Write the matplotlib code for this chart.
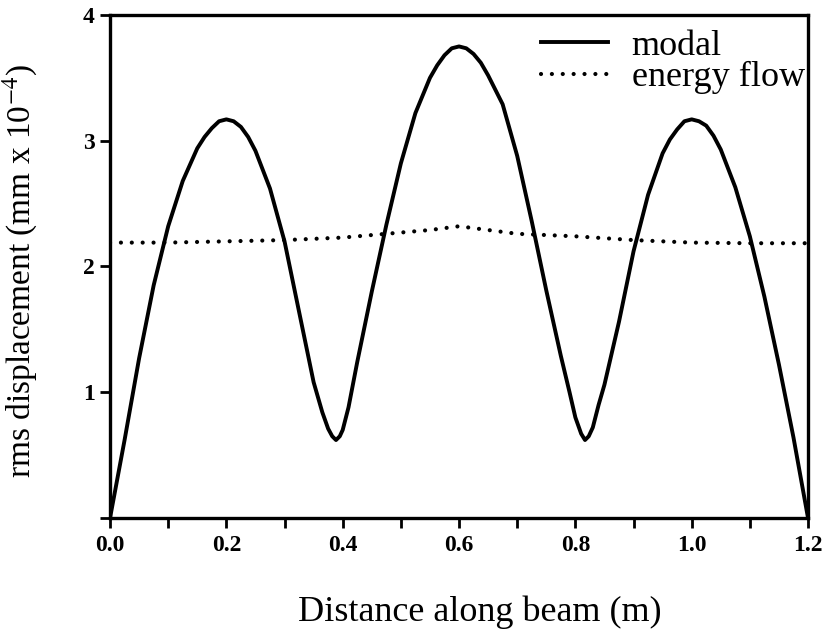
import matplotlib
matplotlib.use("Agg")
import matplotlib.pyplot as plt
from matplotlib.ticker import MultipleLocator

# Data
# modal rms displacement (mm x 1e-4) along the beam
modal_x = [0.0, 0.025, 0.05, 0.075, 0.1, 0.125, 0.15, 0.1625, 0.175, 0.1875,
           0.2, 0.2125, 0.225, 0.2375, 0.25, 0.275, 0.3, 0.325, 0.35, 0.365,
           0.375, 0.382, 0.3885, 0.395, 0.40, 0.41, 0.425, 0.45, 0.475, 0.5,
           0.525, 0.55, 0.5625, 0.575, 0.5875, 0.6, 0.6125, 0.625, 0.6375, 0.65,
           0.675, 0.7, 0.725, 0.75, 0.775, 0.79, 0.80, 0.81, 0.8166, 0.823,
           0.83, 0.84, 0.85, 0.875, 0.9, 0.925, 0.95, 0.9625, 0.975, 0.9875,
           1.0, 1.0125, 1.025, 1.0375, 1.05, 1.075, 1.1, 1.125, 1.15, 1.175, 1.2]
modal_y = [0.0, 0.62, 1.27, 1.85, 2.32, 2.68, 2.94, 3.03, 3.10, 3.155,
           3.17, 3.155, 3.11, 3.03, 2.92, 2.62, 2.20, 1.64, 1.08, 0.84,
           0.71, 0.65, 0.62, 0.65, 0.70, 0.88, 1.24, 1.80, 2.33, 2.82,
           3.22, 3.50, 3.60, 3.68, 3.735, 3.75, 3.735, 3.69, 3.62, 3.52,
           3.29, 2.88, 2.36, 1.81, 1.29, 1.00, 0.80, 0.67, 0.62, 0.65,
           0.72, 0.90, 1.06, 1.56, 2.12, 2.57, 2.90, 3.01, 3.09, 3.155,
           3.17, 3.155, 3.12, 3.04, 2.93, 2.63, 2.24, 1.76, 1.22, 0.64, 0.0]

# energy flow prediction
energy_x = [0.0, 0.1, 0.2, 0.3, 0.4, 0.5, 0.55, 0.6, 0.65, 0.7, 0.8, 0.9, 1.0, 1.1, 1.2]
energy_y = [2.19, 2.19, 2.20, 2.21, 2.23, 2.27, 2.29, 2.32, 2.29, 2.26, 2.24, 2.21, 2.19, 2.185, 2.185]

x_ticks = [0.0, 0.2, 0.4, 0.6, 0.8, 1.0, 1.2]
x_tick_labels = ["0.0", "0.2", "0.4", "0.6", "0.8", "1.0", "1.2"]
y_ticks = [0, 1, 2, 3, 4]
y_tick_labels = ["", "1", "2", "3", "4"]

plt.rcParams['font.family'] = ['Liberation Serif', 'DejaVu Serif']
plt.rcParams['mathtext.fontset'] = 'stix'

fig = plt.figure(figsize=(8.23, 6.3), dpi=100)
ax = fig.add_axes([0.1337, 0.1778, 0.8481, 0.7984])

ax.plot(modal_x, modal_y, color='black', lw=2.8, solid_joinstyle='round', label='modal')
ax.plot(energy_x, energy_y, color='black', lw=3.0, linestyle=(0, (0.01, 2.6)),
        dash_capstyle='round', label='energy flow')

ax.set_xlim(0, 1.2)
ax.set_ylim(0, 4)
ax.set_xticks(x_ticks)
ax.set_xticklabels(x_tick_labels)
ax.xaxis.set_minor_locator(MultipleLocator(0.1))
ax.set_yticks(y_ticks)
ax.set_yticklabels(y_tick_labels)

for s in ax.spines.values():
    s.set_linewidth(2.4)
ax.tick_params(axis='both', which='both', direction='out', width=2.0, length=7,
               labelsize=17, pad=4)
ax.tick_params(axis='x', which='major', pad=5)
for lab in ax.get_xticklabels() + ax.get_yticklabels():
    lab.set_fontweight('bold')

ax.set_xlabel('Distance along beam (m)', fontsize=26)
ax.xaxis.set_label_coords(0.53, -0.155)
ax.set_ylabel(r'rms displacement (mm x 10$^{-4}$)', fontsize=24)
ax.yaxis.set_label_coords(-0.10, 0.49)

leg = ax.legend(loc='upper right', bbox_to_anchor=(1.016, 1.0), frameon=False,
                fontsize=26, handlelength=1.85, handletextpad=0.65,
                labelspacing=-0.05, borderpad=0.4, borderaxespad=0.0)

fig.savefig('out.png', dpi=100)
